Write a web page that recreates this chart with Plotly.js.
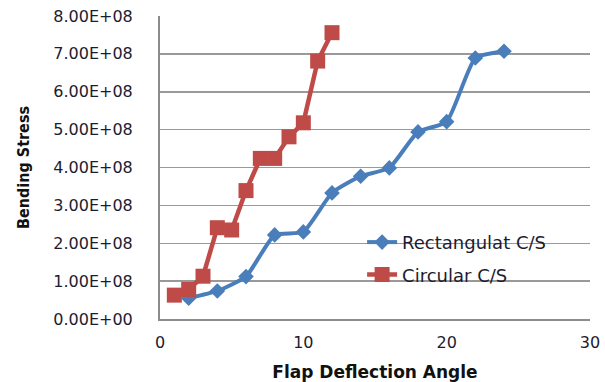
<!DOCTYPE html>
<html>
<head>
<meta charset="utf-8">
<script src="https://cdn.plot.ly/plotly-3.0.1.min.js"></script>
<style>html,body{margin:0;padding:0;background:#fff;}#chart{width:605px;height:382px;}</style>
</head>
<body>
<div id="chart"></div>
<script>
const rectAngles = [2, 4, 6, 8, 10, 12, 14, 16, 18, 20, 22, 24];
const rectStress = [0.55e8, 0.74e8, 1.12e8, 2.22e8, 2.30e8, 3.33e8, 3.77e8, 3.99e8, 4.94e8, 5.21e8, 6.89e8, 7.07e8];
const circAngles = [1, 2, 3, 4, 5, 6, 7, 8, 9, 10, 11, 12];
const circStress = [0.63e8, 0.78e8, 1.13e8, 2.41e8, 2.35e8, 3.39e8, 4.24e8, 4.24e8, 4.81e8, 5.18e8, 6.81e8, 7.56e8];
const yTickVals = [0, 1e8, 2e8, 3e8, 4e8, 5e8, 6e8, 7e8, 8e8];
const yTickText = ["0.00E+00", "1.00E+08", "2.00E+08", "3.00E+08", "4.00E+08", "5.00E+08", "6.00E+08", "7.00E+08", "8.00E+08"];
const xTickVals = [0, 10, 20, 30];
const seriesNames = ["Rectangulat C/S", "Circular C/S"];

const traces = [
  {x: rectAngles, y: rectStress, name: seriesNames[0], type: 'scatter', mode: 'lines+markers',
   legendgroup: 'a',
   line: {color: '#4A7EBB', width: 4, shape: 'spline', smoothing: 0.5},
   marker: {symbol: 'diamond', size: 12, color: '#4A7EBB'}},
  {x: circAngles, y: circStress, name: seriesNames[1], type: 'scatter', mode: 'lines+markers',
   legendgroup: 'b',
   line: {color: '#BE4B48', width: 4.5},
   marker: {symbol: 'square', size: 15, color: '#BE4B48'}}
];

const tickFont = {family: 'DejaVu Sans', size: 16, color: '#1c1c30'};
const layout = {
  width: 605, height: 382,
  margin: {l: 160, r: 15, t: 16, b: 63},
  paper_bgcolor: '#fff', plot_bgcolor: '#fff',
  showlegend: true,
  legend: {x: 0.47, xanchor: 'left', y: 0.2, yanchor: 'middle', bgcolor: 'rgba(0,0,0,0)',
           traceorder: 'grouped', tracegroupgap: 6,
           font: {family: 'DejaVu Sans', size: 18, color: '#1c1c30'}},
  xaxis: {range: [0, 30], tickvals: xTickVals, showgrid: false, zeroline: false,
          showline: true, linecolor: '#8c8c8c', linewidth: 2, ticks: '',
          tickfont: tickFont, ticklabelstandoff: 8,
          title: {text: 'Flap Deflection Angle', font: {family: 'DejaVu Sans', size: 17, color: '#111', weight: 'bold'}, standoff: 16}},
  yaxis: {range: [0, 8e8], tickvals: yTickVals, ticktext: yTickText, showgrid: true,
          gridcolor: '#999999', gridwidth: 1.5, zeroline: false,
          showline: true, linecolor: '#8c8c8c', linewidth: 2, ticks: '',
          tickfont: tickFont, ticklabelstandoff: 22,
          title: {text: 'Bending Stress', font: {family: 'DejaVu Sans Condensed, DejaVu Sans', size: 16, color: '#111', weight: 'bold'}, standoff: 20}}
};
Plotly.newPlot('chart', traces, layout, {displayModeBar: false, staticPlot: true});
</script>
</body>
</html>
